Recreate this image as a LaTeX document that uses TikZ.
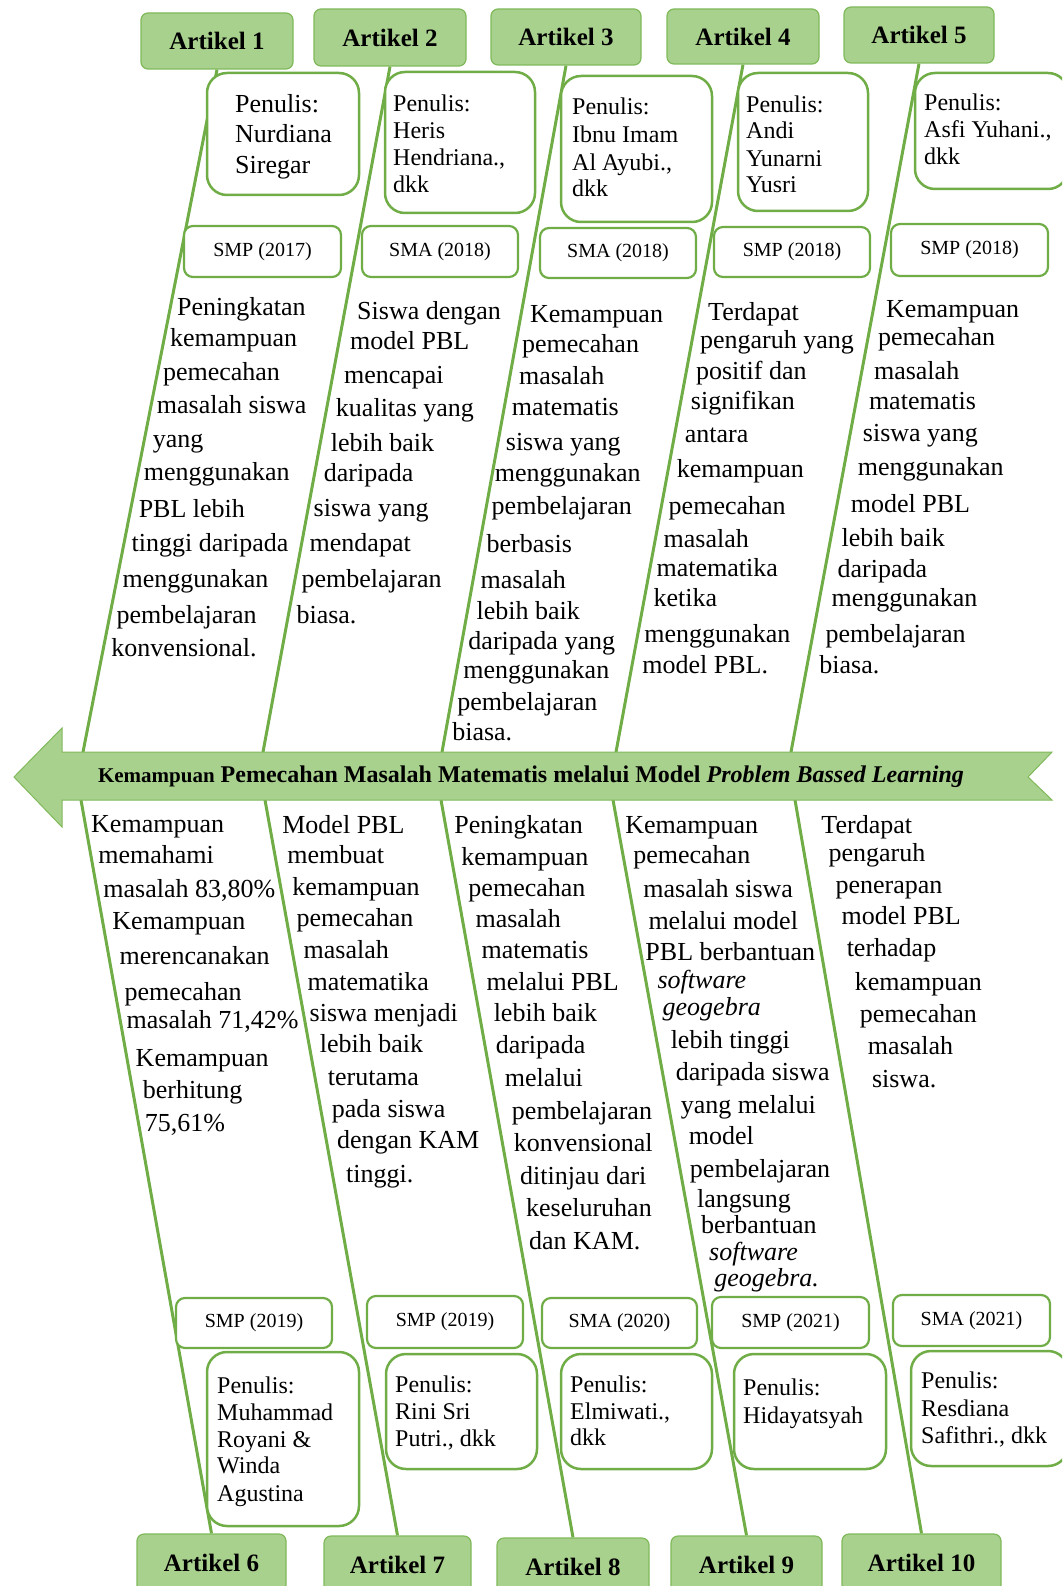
\documentclass[tikz,border=0pt]{standalone}
\usepackage{fontspec}
\setmainfont{Liberation Serif}
\usetikzlibrary{backgrounds}
\definecolor{gline}{HTML}{70AD47}
\definecolor{gfill}{HTML}{A9D18E}
\definecolor{gedge}{HTML}{7FB95A}
\tikzset{
 hdr/.style={draw=gedge, line width=1.2pt, fill=gfill, rounded corners=7pt, inner sep=0pt, font=\fontsize{25}{28}\selectfont\bfseries},
 pbox/.style={draw=gline, line width=2.5pt, fill=white, rounded corners=20pt, inner sep=0pt},
 ybox/.style={draw=gline, line width=2.2pt, fill=white, rounded corners=9pt, inner sep=0pt, font=\fontsize{20}{24}\selectfont},
 bone/.style={draw=gline, line width=3pt},
 spinearrow/.style={draw=gedge, line width=1pt, fill=gfill},
 body/.style={anchor=base west, inner sep=0pt, font=\fontsize{26}{30}\selectfont},
 pen/.style={anchor=base west, inner sep=0pt, font=\fontsize{24}{27}\selectfont},
 penbig/.style={anchor=base west, inner sep=0pt, font=\fontsize{26}{30}\selectfont},
}
\newcommand\bx[7]{\node[#1, minimum width={#5-#3}, minimum height={#6-#4}] (#2) at ({(#3+#5)/2},{(#4+#6)/2}) {#7};}
\newcommand\collines[3]{\foreach \x/\y/\t [count=\i] in {#3} {\node[#1, name=#2-\i] at (\x,\y) {\t};}}
\newcommand\bodylines[2]{\foreach \x/\y/\t [count=\i] in {#2} {\node[body, name=#1-\i] at (\x,\y+9) {\t};}}
\begin{document}
\begin{tikzpicture}[x=1pt,y=-1pt]
\useasboundingbox (0,0) rectangle (1062,1586);
\clip (0,0) rectangle (1062,1586);

% header boxes
\bx{hdr}{A1}{141}{13}{293}{69}{Artikel 1}
\bx{hdr}{A2}{314}{9}{466}{66}{Artikel 2}
\bx{hdr}{A3}{491}{9}{641}{65}{Artikel 3}
\bx{hdr}{A4}{667}{9}{819}{64}{Artikel 4}
\bx{hdr}{A5}{844}{7}{994}{63}{Artikel 5}
\bx{hdr}{A6}{137}{1534}{286}{1592}{Artikel 6}
\bx{hdr}{A7}{324}{1536}{471}{1594}{Artikel 7}
\bx{hdr}{A8}{497}{1538}{649}{1596}{Artikel 8}
\bx{hdr}{A9}{671}{1536}{822}{1594}{Artikel 9}
\bx{hdr}{A10}{842}{1534}{1001}{1592}{Artikel 10}

% bone end points on the spine
\coordinate (t1) at (83,752);
\coordinate (t2) at (263,752);
\coordinate (t3) at (442,752);
\coordinate (t4) at (616,752);
\coordinate (t5) at (791,752);
\coordinate (b6) at (81,800);
\coordinate (b7) at (265,800);
\coordinate (b8) at (441,800);
\coordinate (b9) at (613,800);
\coordinate (b10) at (795,800);

\begin{pgfonlayer}{background}
\draw[bone] (A1.south) -- (t1);
\draw[bone] (A2.south) -- (t2);
\draw[bone] (A3.south) -- (t3);
\draw[bone] (A4.south) -- (t4);
\draw[bone] (A5.south) -- (t5);
\draw[bone] (b6) -- (A6.north);
\draw[bone] (b7) -- (A7.north);
\draw[bone] (b8) -- (A8.north);
\draw[bone] (b9) -- (A9.north);
\draw[bone] (b10) -- (A10.north);
\end{pgfonlayer}

% spine arrow
\draw[spinearrow] (14,777) -- (62,728) -- (62,752) -- (1052,752) -- (1028,777) -- (1052,800) -- (62,800) -- (62,827) -- cycle;
\node[inner sep=0pt] (spine) at (531,777) {{\fontsize{21}{24}\selectfont\bfseries Kemampuan}\hspace{6pt}{\fontsize{24}{26}\selectfont\bfseries Pemecahan Masalah Matematis melalui Model \textit{Problem Bassed Learning}}};

% author boxes
\bx{pbox}{P1}{207}{73}{359}{195}{}
\bx{pbox}{P2}{385}{72}{535}{213}{}
\bx{pbox}{P3}{561}{76}{712}{222}{}
\bx{pbox}{P4}{738}{73}{868}{211}{}
\bx{pbox}{P5}{915}{73}{1068}{189}{}
\bx{pbox}{P6}{207}{1352}{359}{1526}{}
\bx{pbox}{P7}{386}{1354}{537}{1469}{}
\bx{pbox}{P8}{561}{1354}{712}{1469}{}
\bx{pbox}{P9}{734}{1354}{886}{1469}{}
\bx{pbox}{P10}{911}{1351}{1068}{1466}{}

% year boxes
\bx{ybox}{Y1}{184}{226}{341}{277}{SMP (2017)}
\bx{ybox}{Y2}{362}{226}{518}{277}{SMA (2018)}
\bx{ybox}{Y3}{540}{228}{696}{278}{SMA (2018)}
\bx{ybox}{Y4}{714}{227}{870}{277}{SMP (2018)}
\bx{ybox}{Y5}{891}{224}{1048}{276}{SMP (2018)}
\bx{ybox}{Y6}{176}{1298}{332}{1348}{SMP (2019)}
\bx{ybox}{Y7}{367}{1296}{523}{1348}{SMP (2019)}
\bx{ybox}{Y8}{542}{1298}{697}{1348}{SMA (2020)}
\bx{ybox}{Y9}{712}{1297}{869}{1348}{SMP (2021)}
\bx{ybox}{Y10}{893}{1295}{1050}{1346}{SMA (2021)}

% author texts
\collines{penbig}{p1}{235/113/Penulis:, 235/143/Nurdiana, 235/174/Siregar}
\collines{pen}{p2}{393/112/Penulis:, 393/139/Heris, 393/166/{Hendriana.,}, 393/193/dkk}
\collines{pen}{p3}{572/115/Penulis:, 572/143/Ibnu Imam, 572/171/{Al Ayubi.,}, 572/197/dkk}
\collines{pen}{p4}{746/113/Penulis:, 746/139/Andi, 746/167/Yunarni, 746/193/Yusri}
\collines{pen}{p5}{924/111/Penulis:, 924/138/{Asfi Yuhani.,}, 924/165/dkk}
\collines{pen}{p6}{217/1393/Penulis:, 217/1420/Muhammad, 217/1447/Royani \&, 217/1473/Winda, 217/1501/Agustina}
\collines{pen}{p7}{395/1392/Penulis:, 395/1419/Rini Sri, 395/1446/{Putri., dkk}}
\collines{pen}{p8}{570/1392/Penulis:, 570/1419/{Elmiwati.,}, 570/1445/dkk}
\collines{pen}{p9}{743/1395/Penulis:, 743/1423/Hidayatsyah}
\collines{pen}{p10}{921/1388/Penulis:, 921/1416/Resdiana, 921/1443/{Safithri., dkk}}

% body texts (coordinates of the 1050-wide view)
\begin{scope}[xscale=1.0114,yscale=1.0114]
\bodylines{c1}{175/303/Peningkatan, 168/334/kemampuan, 161/367/pemecahan, 155/400/masalah siswa, 151/433/yang, 142/466/menggunakan, 137/503/PBL lebih, 130/536/tinggi daripada, 121/572/menggunakan, 115/607/pembelajaran, 110/640/konvensional.}
\bodylines{c2}{353/307/Siswa dengan, 346/337/model PBL, 340/370/mencapai, 332/403/kualitas yang, 327/437/lebih baik, 320/467/daripada, 310/502/siswa yang, 306/536/mendapat, 298/572/pembelajaran, 293/607/biasa.}
\bodylines{c3}{524/310/Kemampuan, 516/340/pemecahan, 513/371/masalah, 506/402/matematis, 500/436/siswa yang, 489/467/menggunakan, 486/500/pembelajaran, 481/537/berbasis, 475/573/masalah, 471/604/lebih baik, 463/633/daripada yang, 458/662/menggunakan, 452/693/pembelajaran, 447/723/biasa.}
\bodylines{c4}{700/308/Terdapat, 692/336/pengaruh yang, 688/366/positif dan, 683/396/signifikan, 677/429/antara, 669/463/kemampuan, 661/500/pemecahan, 656/532/masalah, 649/561/matematika, 646/591/ketika, 637/626/menggunakan, 635/657/model PBL.}
\bodylines{c5}{876/305/Kemampuan, 868/333/pemecahan, 864/366/masalah, 859/396/matematis, 853/428/siswa yang, 848/461/menggunakan, 841/498/model PBL, 832/531/lebih baik, 828/562/daripada, 822/591/menggunakan, 816/626/pembelajaran, 810/657/biasa.}
\bodylines{c6}{90/814/Kemampuan, 97/845/memahami, 102/878/{masalah 83,80\%}, 111/910/Kemampuan, 118/945/merencanakan, 123/980/pemecahan, 125/1008/{masalah 71,42\%}, 134/1045/Kemampuan, 141/1077/berhitung, 143/1110/{75,61\%}}
\bodylines{c7}{279/815/Model PBL, 284/845/membuat, 289/876/kemampuan, 293/907/pemecahan, 300/939/masalah, 304/970/matematika, 306/1001/siswa menjadi, 316/1032/lebih baik, 324/1064/terutama, 328/1096/pada siswa, 333/1127/dengan KAM, 342/1160/tinggi.}
\bodylines{c8}{449/815/Peningkatan, 456/847/kemampuan, 463/877/pemecahan, 470/908/masalah, 476/939/matematis, 481/970/melalui PBL, 488/1001/lebih baik, 490/1033/daripada, 499/1065/melalui, 506/1098/pembelajaran, 508/1130/konvensional, 514/1162/ditinjau dari, 520/1194/keseluruhan, 523/1226/dan KAM.}
\bodylines{c9}{618/815/Kemampuan, 626/845/pemecahan, 636/878/masalah siswa, 641/910/melalui model, 638/941/PBL berbantuan, 650/968/\textit{software}, 655/995/\textit{geogebra}, 663/1028/lebih tinggi, 668/1059/daripada siswa, 673/1092/yang melalui, 681/1123/model, 682/1155/pembelajaran, 689/1185/langsung, 693/1211/berbantuan, 701/1237/\textit{software}, 706/1263/\textit{geogebra.}}
\bodylines{c10}{812/815/Terdapat, 819/843/pengaruh, 826/874/penerapan, 832/905/model PBL, 837/937/terhadap, 845/970/kemampuan, 850/1002/pemecahan, 858/1034/masalah, 862/1066/siswa.}
\end{scope}
\end{tikzpicture}
\end{document}
